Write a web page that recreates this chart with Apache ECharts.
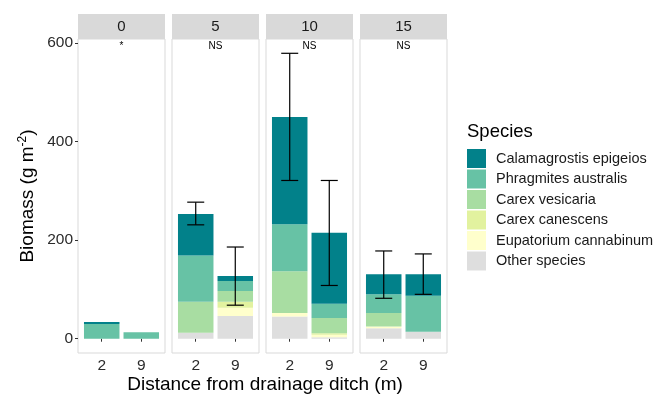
<!DOCTYPE html>
<html>
<head>
<meta charset="utf-8">
<script src="https://cdn.jsdelivr.net/npm/echarts@6/dist/echarts.min.js"></script>
<style>
  html, body { margin: 0; padding: 0; background: #fff; }
  #main { width: 662px; height: 394px; }
</style>
</head>
<body>
<div id="main"></div>
<script>
// facets (distance along ditch) and x categories (distance from ditch)
const panels = ['0', '5', '10', '15'];
const distances = ['2', '9'];
const signif = ['*', 'NS', 'NS', 'NS'];
const species = ['Calamagrostis epigeios', 'Phragmites australis', 'Carex vesicaria',
  'Carex canescens', 'Eupatorium cannabinum', 'Other species'];
const colors = ['#02818a', '#67c2a5', '#a8dda2', '#e2f29f', '#ffffcc', '#dedede'];

// biomass per species, [panel][distance]
const calamagrostis = [[4, 0], [84, 10], [218, 144], [41, 44]];
const phragmites = [[30, 13], [94, 20], [95, 29], [38, 73]];
const carexVesicaria = [[0, 0], [63, 22], [85, 31], [27, 0]];
const carexCanescens = [[0, 0], [0, 12], [0, 3], [0, 0]];
const eupatorium = [[0, 0], [0, 17], [7, 5], [4, 0]];
const otherSpecies = [[0, 0], [12, 46], [45, 3], [21, 14]];
// error bars on total
const errLow = [[null, null], [231, 68], [321, 108], [82, 90]];
const errHigh = [[null, null], [277, 186], [579, 321], [178, 172]];

const speciesData = [calamagrostis, phragmites, carexVesicaria, carexCanescens, eupatorium, otherSpecies];

const FONT = 'Liberation Sans, Arial, sans-serif';
const gridLeft = [78, 172, 266, 360];
const gridTop = 39, gridW = 87, gridH = 314;
const BAR_W = 35.5;

const grids = [], xAxes = [], yAxes = [], series = [], graphics = [];

// stacked rectangle drawn through the axis scales
function barItem(params, api) {
  const x = api.value(0);
  const p0 = api.coord([x, api.value(1)]);
  const p1 = api.coord([x, api.value(2)]);
  return {
    type: 'rect',
    shape: { x: p0[0] - BAR_W / 2, y: p1[1], width: BAR_W, height: p0[1] - p1[1] },
    style: { fill: api.visual('color') }
  };
}

panels.forEach((p, i) => {
  grids.push({
    left: gridLeft[i], top: gridTop, width: gridW, height: gridH,
    show: true, borderColor: '#d9d9d9', borderWidth: 1, backgroundColor: '#fff'
  });
  xAxes.push({
    gridIndex: i, type: 'value', min: 0.4, max: 2.6,
    axisLine: { show: false },
    splitLine: { show: false },
    axisTick: { show: true, customValues: [1, 2], length: 3, lineStyle: { color: '#333' } },
    axisLabel: {
      customValues: [1, 2], formatter: v => distances[Math.round(v) - 1],
      fontSize: 15.5, color: '#2b2b2b', fontFamily: FONT, margin: 5
    }
  });
  yAxes.push({
    gridIndex: i, type: 'value', min: -29, max: 608,
    axisLine: { show: false },
    splitLine: { show: false },
    axisTick: { show: i === 0, customValues: [0, 200, 400, 600], length: 3, lineStyle: { color: '#333' } },
    axisLabel: {
      show: i === 0, customValues: [0, 200, 400, 600],
      fontSize: 15.5, color: '#2b2b2b', fontFamily: FONT, margin: 5
    },
    name: i === 0 ? '{t|Biomass (g m}{s|-2}{t|)}' : '',
    nameLocation: 'middle', nameRotate: 90, nameGap: 40,
    nameTextStyle: {
      rich: {
        t: { fontSize: 19, color: '#000', fontFamily: FONT },
        s: { fontSize: 12, color: '#000', fontFamily: FONT, padding: [0, 0, 9, 0] }
      }
    }
  });

  // stacked bars, bottom layer = last species
  const base = [0, 0];
  for (let s = species.length - 1; s >= 0; s--) {
    const rows = distances.map((d, k) => {
      const v = speciesData[s][i][k];
      const r = [k + 1, base[k], base[k] + v];
      base[k] += v;
      return r;
    }).filter(r => r[2] > r[1]);
    series.push({
      name: species[s], type: 'custom',
      xAxisIndex: i, yAxisIndex: i,
      itemStyle: { color: colors[s] },
      encode: { x: 0, y: [1, 2] },
      data: rows,
      renderItem: barItem
    });
  }

  // error bars
  const eb = distances.map((d, k) => [k + 1, errLow[i][k], errHigh[i][k]])
    .filter(r => r[1] != null);
  series.push({
    type: 'custom', xAxisIndex: i, yAxisIndex: i, z: 10,
    encode: { x: 0, y: [1, 2] },
    data: eb,
    renderItem: (params, api) => {
      const lo = api.coord([api.value(0), api.value(1)]);
      const hi = api.coord([api.value(0), api.value(2)]);
      const w = 8.5;
      const st = { stroke: '#000', lineWidth: 1.2 };
      return {
        type: 'group', children: [
          { type: 'line', shape: { x1: lo[0], y1: lo[1], x2: hi[0], y2: hi[1] }, style: st },
          { type: 'line', shape: { x1: lo[0] - w, y1: lo[1], x2: lo[0] + w, y2: lo[1] }, style: st },
          { type: 'line', shape: { x1: hi[0] - w, y1: hi[1], x2: hi[0] + w, y2: hi[1] }, style: st }
        ]
      };
    }
  });

  // facet strip
  graphics.push({
    type: 'rect', left: gridLeft[i], top: 14,
    shape: { width: gridW, height: 25 }, style: { fill: '#d9d9d9' }
  });
  graphics.push({
    type: 'text', x: gridLeft[i] + gridW / 2, y: 27,
    style: { text: p, fontSize: 15, fill: '#1a1a1a', fontFamily: FONT, align: 'center', verticalAlign: 'middle' }
  });
  graphics.push({
    type: 'text', x: gridLeft[i] + gridW / 2, y: 46, z: 20,
    style: { text: signif[i], fontSize: 10, fill: '#000', fontFamily: FONT, align: 'center', verticalAlign: 'middle' }
  });
});

graphics.push({
  type: 'text', x: 265, y: 385,
  style: { text: 'Distance from drainage ditch (m)', fontSize: 19, fill: '#000', fontFamily: FONT, align: 'center', verticalAlign: 'middle' }
});

const chart = echarts.init(document.getElementById('main'));
chart.setOption({
  animation: false,
  backgroundColor: '#fff',
  title: {
    text: 'Species', left: 462, top: 117,
    textStyle: { fontSize: 18.5, fontWeight: 'normal', color: '#000', fontFamily: FONT }
  },
  legend: {
    data: species, orient: 'vertical', left: 462, top: 144,
    itemWidth: 19, itemHeight: 19, itemGap: 1.5, icon: 'rect', selectedMode: false,
    textStyle: { fontSize: 14.5, color: '#1a1a1a', fontFamily: FONT, padding: [0, 0, 0, 5] }
  },
  grid: grids,
  xAxis: xAxes,
  yAxis: yAxes,
  series: series,
  graphic: graphics
});
</script>
</body>
</html>
